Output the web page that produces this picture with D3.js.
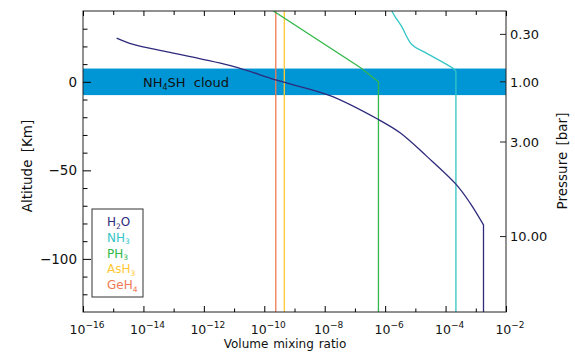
<!DOCTYPE html>
<html>
<head>
<meta charset="utf-8">
<script src="https://cdn.jsdelivr.net/npm/d3@7"></script>
<style>
  body { margin: 0; background: #fff; }
  svg { font-family: "DejaVu Sans", Verdana, sans-serif; }
</style>
</head>
<body>
<div id="chart"></div>
<script>
// species profiles: altitude [km] and volume mixing ratio
const h2oAlt = [24.7, 21.1, 16.6, 8.7, 0.9, -7.8, -21.3, -28.9, -42.1, -57.8, -68.5, -80.8, -130];
const h2oVmr = [1.3e-15, 4.6e-15, 7.6e-14, 9.3e-12, 2.6e-10, 1.5e-8, 6.0e-7, 3.2e-6, 2.4e-5, 2.2e-4, 6.5e-4, 1.8e-3, 1.8e-3];

const nh3Alt = [40, 37, 31.3, 21.1, 16.6, 7.5, 5.8, -130];
const nh3Vmr = [1.66e-6, 2.1e-6, 3.5e-6, 7.6e-6, 2.1e-5, 1.8e-4, 2.2e-4, 2.2e-4];

const ph3Alt = [40, 8.1, 0, -130];
const ph3Vmr = [2.0e-10, 1.5e-7, 6.0e-7, 6.0e-7];

const ash3Alt = [40, -130];
const ash3Vmr = [4.6e-10, 4.6e-10];

const geh4Alt = [40, -130];
const geh4Vmr = [2.4e-10, 2.4e-10];

// cloud layer [km]
const cloudBase = -7.5;
const cloudTop = 7.5;

// axis ticks
const xMajorTicks = [1e-16, 1e-14, 1e-12, 1e-10, 1e-8, 1e-6, 1e-4, 1e-2];
const xMinorTicks = [1e-15, 1e-13, 1e-11, 1e-9, 1e-7, 1e-5, 1e-3];
const altMajorTicks = [0, -50, -100];
const altMinorTicks = [30, 20, 10, -10, -20, -30, -40, -60, -70, -80, -90, -110, -120];
const pressureTicks = ["0.30", "1.00", "3.00", "10.00"];
const pressureTickAlt = [26.8, 0, -34.0, -87.4];

const species = [
  {name: "H", sub: "2", rest: "O", color: "#2e2a7c", alt: h2oAlt, vmr: h2oVmr, smooth: true},
  {name: "NH", sub: "3", rest: "", color: "#33c6c6", alt: nh3Alt, vmr: nh3Vmr, smooth: true},
  {name: "PH", sub: "3", rest: "", color: "#33b84a", alt: ph3Alt, vmr: ph3Vmr, smooth: false},
  {name: "AsH", sub: "3", rest: "", color: "#ffc933", alt: ash3Alt, vmr: ash3Vmr, smooth: false},
  {name: "GeH", sub: "4", rest: "", color: "#f07a55", alt: geh4Alt, vmr: geh4Vmr, smooth: false}
];

const W = 575, H = 357;
const margin = {top: 11, right: 69, bottom: 45, left: 83};
const width = W - margin.left - margin.right;
const height = H - margin.top - margin.bottom;

const svg = d3.select("#chart").append("svg")
  .attr("width", W)
  .attr("height", H);

const g = svg.append("g")
  .attr("transform", "translate(" + margin.left + "," + margin.top + ")");

const x = d3.scaleLog().domain([1e-16, 1e-2]).range([0, width]);
const y = d3.scaleLinear().domain([-130, 40]).range([height, 0]);

g.append("clipPath").attr("id", "clip")
  .append("rect").attr("width", width).attr("height", height);

// cloud band
g.append("rect")
  .attr("x", 0)
  .attr("y", y(cloudTop))
  .attr("width", width)
  .attr("height", y(cloudBase) - y(cloudTop))
  .attr("fill", "#0096d6");

const cloudText = g.append("text")
  .attr("x", 60)
  .attr("y", y(0) + 5)
  .attr("font-size", 13)
  .attr("fill", "#111")
  .attr("word-spacing", 4);
cloudText.append("tspan").text("NH");
cloudText.append("tspan").attr("font-size", 8).attr("dy", 3).text("4");
cloudText.append("tspan").attr("dy", -3).text("SH cloud");

// profiles
const line = d3.line()
  .x(d => x(d[1]))
  .y(d => y(d[0]));
const smoothLine = d3.line()
  .x(d => x(d[1]))
  .y(d => y(d[0]))
  .curve(d3.curveCatmullRom.alpha(0.5));

function profilePath(d) {
  const pts = d.alt.map((a, i) => [a, d.vmr[i]]);
  if (!d.smooth) return line(pts);
  // smooth part, then the straight deep segment
  const last = pts[pts.length - 1];
  return smoothLine(pts.slice(0, -1)) + "L" + x(last[1]) + "," + y(last[0]);
}

g.append("g").attr("clip-path", "url(#clip)")
  .selectAll("path")
  .data(species.slice().reverse())
  .enter().append("path")
    .attr("d", profilePath)
    .attr("fill", "none")
    .attr("stroke", d => d.color)
    .attr("stroke-width", 1.3);

// frame
g.append("rect")
  .attr("width", width).attr("height", height)
  .attr("fill", "none").attr("stroke", "#222").attr("stroke-width", 1);

// bottom axis
const bottomAxis = g.append("g").attr("transform", "translate(0," + height + ")");
bottomAxis.call(d3.axisBottom(x).tickValues(xMajorTicks).tickSizeInner(-6).tickSizeOuter(0).tickFormat(""));
bottomAxis.append("g").call(d3.axisBottom(x).tickValues(xMinorTicks).tickSizeInner(-3.5).tickSizeOuter(0).tickFormat(""));
bottomAxis.selectAll(".domain").remove();

xMajorTicks.forEach(v => {
  const t = bottomAxis.append("text")
    .attr("x", x(v) + 4)
    .attr("y", 22)
    .attr("text-anchor", "middle")
    .attr("font-size", 12.5)
    .attr("font-family", "DejaVu Sans, sans-serif")
    .attr("fill", "#111");
  t.append("tspan").text("10");
  t.append("tspan").attr("font-size", 9).attr("dy", -6).text("\u2212" + Math.round(-Math.log10(v)));
});

// top axis
const topAxis = g.append("g");
topAxis.call(d3.axisTop(x).tickValues(xMajorTicks).tickSizeInner(-5).tickSizeOuter(0).tickFormat(""));
topAxis.append("g").call(d3.axisTop(x).tickValues(xMinorTicks).tickSizeInner(-4).tickSizeOuter(0).tickFormat(""));
topAxis.selectAll(".domain").remove();

// left axis
const leftAxis = g.append("g");
leftAxis.call(d3.axisLeft(y).tickValues(altMajorTicks).tickSizeInner(-8).tickSizeOuter(0).tickPadding(6)
  .tickFormat(d => d === 0 ? "0" : "\u2212" + Math.abs(d)));
leftAxis.append("g").call(d3.axisLeft(y).tickValues(altMinorTicks).tickSizeInner(-4.5).tickSizeOuter(0).tickFormat(""));
leftAxis.selectAll(".domain").remove();
leftAxis.attr("font-family", null).attr("font-size", null);
leftAxis.selectAll("text").attr("font-size", 13.5).attr("fill", "#111");

// right axis (pressure)
const rightAxis = g.append("g").attr("transform", "translate(" + width + ",0)");
pressureTicks.forEach((p, i) => {
  rightAxis.append("line")
    .attr("x1", -6).attr("x2", 0)
    .attr("y1", y(pressureTickAlt[i])).attr("y2", y(pressureTickAlt[i]))
    .attr("stroke", "#222");
  rightAxis.append("text")
    .attr("x", 4)
    .attr("y", y(pressureTickAlt[i]))
    .attr("dy", "0.36em")
    .attr("font-size", 13)
    .attr("fill", "#111")
    .text(p);
});

// axis titles
svg.append("text")
  .attr("x", 285)
  .attr("y", 348)
  .attr("text-anchor", "middle")
  .attr("font-size", 12)
  .attr("fill", "#111")
  .attr("word-spacing", 1)
  .text("Volume mixing ratio");

svg.append("text")
  .attr("transform", "translate(32,166) rotate(-90)")
  .attr("text-anchor", "middle")
  .attr("font-size", 13.5)
  .attr("fill", "#111")
  .attr("word-spacing", 3)
  .text("Altitude [Km]");

svg.append("text")
  .attr("transform", "translate(567,161) rotate(-90)")
  .attr("text-anchor", "middle")
  .attr("font-size", 13.5)
  .attr("fill", "#111")
  .attr("word-spacing", 2)
  .text("Pressure [bar]");

// legend
const legend = svg.append("g").attr("transform", "translate(92,209)");
legend.append("rect")
  .attr("width", 51).attr("height", 88)
  .attr("fill", "#fff").attr("stroke", "#333").attr("stroke-width", 1);

species.forEach((s, i) => {
  const t = legend.append("text")
    .attr("x", 15)
    .attr("y", 17 + i * 15.8)
    .attr("font-size", 12)
    .attr("fill", s.color);
  t.append("tspan").text(s.name);
  t.append("tspan").attr("font-size", 7.5).attr("dy", 2.5).text(s.sub);
  if (s.rest) t.append("tspan").attr("dy", -2.5).text(s.rest);
});
</script>
</body>
</html>
